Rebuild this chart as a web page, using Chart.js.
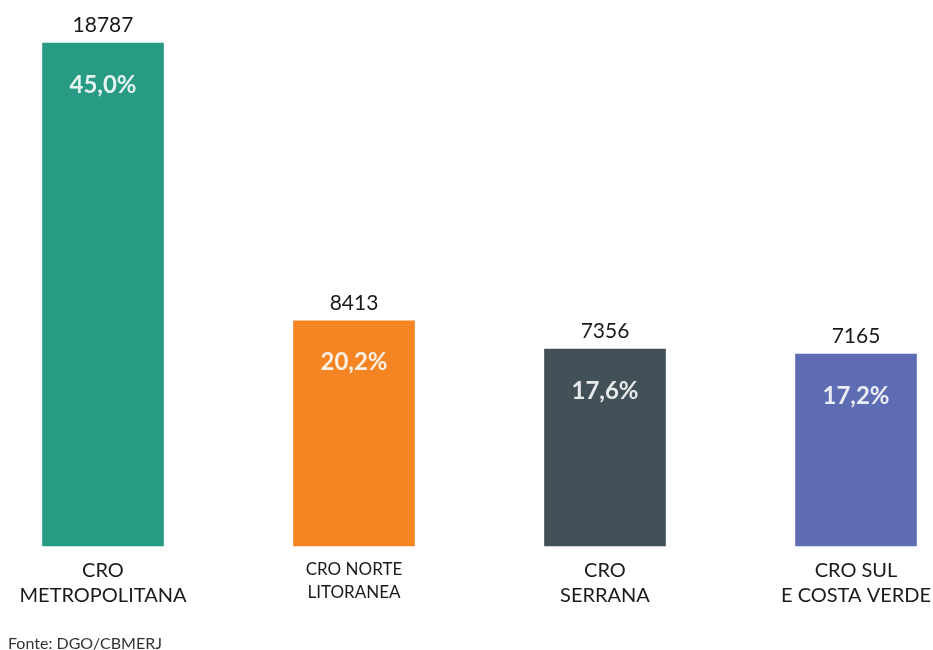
<!DOCTYPE html>
<html>
<head>
<meta charset="utf-8">
<script src="https://cdn.jsdelivr.net/npm/chart.js@4.4.1/dist/chart.umd.min.js"></script>
<style>
  html, body { margin: 0; padding: 0; background: #ffffff; }
  #wrap { width: 933px; height: 650px; position: relative; }
</style>
</head>
<body>
<div id="wrap"><canvas id="chart"></canvas></div>
<script>
// Ocorrências por Comando Regional Operacional
const categories = [
  ['CRO', 'METROPOLITANA'],
  ['CRO NORTE', 'LITORANEA'],
  ['CRO', 'SERRANA'],
  ['CRO SUL', 'E COSTA VERDE']
];
const occurrences = [18787, 8413, 7356, 7165];
const shares = ['45,0%', '20,2%', '17,6%', '17,2%'];
const barColors = ['#279b84', '#f58523', '#415157', '#5e6cb4'];
const sourceNote = 'Fonte: DGO/CBMERJ';

const FONT = 'Lato, "Noto Sans", sans-serif';

// Draws the total above each bar and its share inside the bar top
const barLabels = {
  id: 'barLabels',
  afterDatasetsDraw(chart) {
    const ctx = chart.ctx;
    const meta = chart.getDatasetMeta(0);
    ctx.save();
    ctx.textAlign = 'center';
    ctx.textBaseline = 'middle';
    meta.data.forEach((bar, i) => {
      ctx.fillStyle = '#1a1a1a';
      ctx.font = '400 21px ' + FONT;
      ctx.fillText(String(occurrences[i]), bar.x, bar.y - 18);
      ctx.fillStyle = 'rgba(255,255,255,0.88)';
      ctx.font = '700 24px ' + FONT;
      ctx.fillText(shares[i], bar.x, bar.y + 42);
    });
    ctx.restore();
  }
};

// Source note in the lower-left corner
const sourceFooter = {
  id: 'sourceFooter',
  afterDraw(chart) {
    const ctx = chart.ctx;
    ctx.save();
    ctx.fillStyle = '#333333';
    ctx.font = '400 16px ' + FONT;
    ctx.textAlign = 'left';
    ctx.textBaseline = 'middle';
    ctx.fillText(sourceNote, 8, 644);
    ctx.restore();
  }
};

new Chart(document.getElementById('chart'), {
  type: 'bar',
  data: {
    labels: categories,
    datasets: [{
      data: occurrences,
      backgroundColor: barColors,
      borderWidth: 0,
      barThickness: 121,
      clip: false
    }]
  },
  options: {
    responsive: true,
    maintainAspectRatio: false,
    animation: false,
    layout: { padding: { top: 43, left: 103, right: 77, bottom: 30 } },
    plugins: {
      legend: { display: false },
      tooltip: { enabled: false },
      title: { display: false }
    },
    scales: {
      x: {
        offset: false,
        grid: { display: false, drawTicks: false },
        border: { display: false },
        // the outer labels fit inside the layout padding already
        afterFit: (s) => { s.paddingLeft = 0; s.paddingRight = 0; },
        ticks: {
          color: '#1a1a1a',
          padding: 12,
          maxRotation: 0,
          autoSkip: false,
          font: (c) => ({
            family: FONT,
            size: c.index === 1 ? 17 : 20,
            lineHeight: c.index === 1 ? 1.35 : 1.25
          })
        }
      },
      y: {
        display: false,
        min: 0,
        max: 18787
      }
    }
  },
  plugins: [barLabels, sourceFooter]
});
</script>
</body>
</html>
